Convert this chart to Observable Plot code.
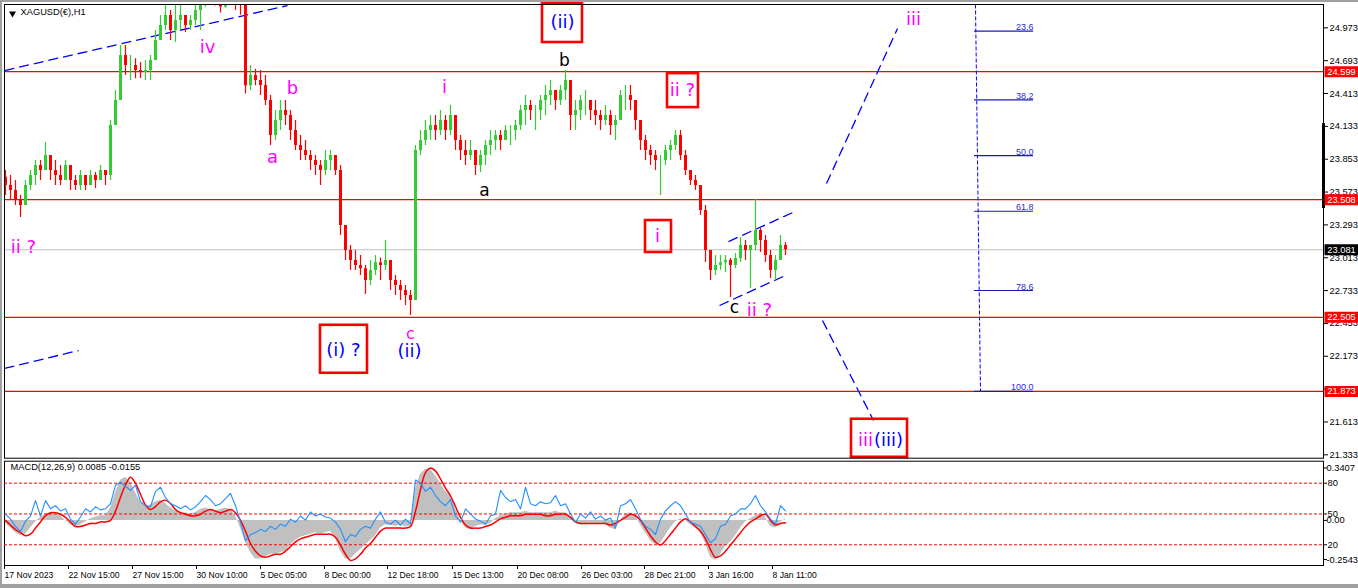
<!DOCTYPE html>
<html><head><meta charset="utf-8">
<script src="https://cdn.jsdelivr.net/npm/d3@7"></script>
<script src="https://cdn.jsdelivr.net/npm/@observablehq/plot@0.6"></script>
<style>
body{margin:0;background:#fff;}
#wrap{position:relative;width:1358px;height:588px;overflow:hidden;background:#fff;}
#wrap svg{position:absolute;left:0;overflow:visible;}
.edge{position:absolute;background:#a0a0a0;}
</style></head><body><div id="wrap"></div>
<script>
// ---------- DATA ----------
const symbolTitle = "XAGUSD(\u20AC),H1";
const macdTitle = "MACD(12,26,9) 0.0085 -0.0155";
const barStep = 5;            // each candle below = 5 H1 bars
const firstOpen = 23.70;
const highs = [23.757,23.714,23.671,23.544,23.671,23.757,23.842,23.842,23.995,23.885,
23.842,23.799,23.842,23.757,23.714,23.757,23.714,23.757,23.740,23.799,
23.757,24.183,24.439,24.822,24.822,24.737,24.71,24.677,24.694,24.737,
24.950,25.078,25.163,25.120,25.206,25.206,25.078,25.078,25.163,25.25,
25.30,25.35,25.33,25.28,25.30,25.34,25.30,25.27,25.12,24.652,
24.62,24.609,24.567,24.396,24.268,24.353,24.353,24.268,24.183,24.055,
24.012,23.927,23.885,23.842,23.927,23.927,23.885,23.799,23.288,23.117,
23.075,23.032,22.947,22.989,23.032,23.01,23.160,22.947,22.862,22.819,
22.776,22.734,23.970,24.098,24.183,24.226,24.226,24.268,24.226,24.311,
24.183,24.055,24.012,24.012,23.927,23.927,24.012,24.098,24.098,24.098,
24.140,24.140,24.183,24.311,24.396,24.353,24.311,24.396,24.481,24.524,
24.439,24.481,24.61,24.524,24.353,24.396,24.439,24.353,24.353,24.268,
24.311,24.268,24.226,24.439,24.481,24.481,24.353,24.183,24.055,23.970,
23.927,23.885,23.970,24.012,24.098,24.098,23.927,23.757,23.714,23.629,
23.458,23.075,23.032,23.032,23.032,23.006,23.049,23.185,23.160,23.117,
23.510,23.262,23.203,23.075,23.032,23.203,23.143];
const lows = [23.544,23.501,23.458,23.356,23.458,23.586,23.629,23.671,23.757,23.671,
23.629,23.629,23.671,23.586,23.586,23.586,23.586,23.629,23.603,23.671,
23.629,23.671,24.140,24.353,24.567,24.524,24.54,24.541,24.524,24.524,
24.694,24.865,24.950,24.865,24.848,24.950,24.933,24.950,24.993,24.950,
25.15,25.18,25.16,25.10,25.14,25.17,25.12,25.08,24.41,24.439,
24.48,24.396,24.311,23.970,24.012,24.098,24.140,24.012,23.927,23.842,
23.842,23.757,23.714,23.629,23.714,23.757,23.714,23.203,22.989,22.904,
22.904,22.862,22.70,22.776,22.862,22.819,22.904,22.734,22.691,22.648,
22.606,22.520,22.648,23.885,23.970,24.012,24.012,24.055,24.012,24.055,
23.927,23.842,23.799,23.842,23.714,23.74,23.799,23.885,23.927,23.927,
24.012,23.970,24.012,24.098,24.140,24.183,24.098,24.183,24.226,24.311,
24.268,24.311,24.353,24.098,24.098,24.183,24.226,24.183,24.140,24.098,
24.140,24.055,24.012,24.183,24.268,24.268,24.098,23.927,23.842,23.799,
23.757,23.544,23.799,23.842,23.927,23.842,23.714,23.629,23.586,23.373,
22.972,22.819,22.862,22.904,22.887,22.674,22.92,22.972,22.989,22.750,
23.075,23.058,22.972,22.836,22.819,23.032,23.032];
const closes = [23.629,23.586,23.501,23.458,23.629,23.714,23.799,23.757,23.885,23.757,
23.714,23.671,23.799,23.671,23.629,23.714,23.629,23.714,23.671,23.757,
23.714,24.140,24.353,24.737,24.652,24.652,24.609,24.592,24.609,24.694,
24.865,24.993,25.078,24.950,25.035,25.078,24.993,25.035,25.120,25.163,
25.25,25.28,25.22,25.15,25.24,25.27,25.20,25.18,24.48,24.567,
24.524,24.481,24.353,24.055,24.183,24.268,24.226,24.098,23.970,23.927,
23.885,23.842,23.799,23.757,23.842,23.885,23.757,23.288,23.075,22.989,
22.947,22.92,22.819,22.904,22.97,22.947,22.989,22.819,22.776,22.734,
22.691,22.648,23.927,24.012,24.098,24.140,24.098,24.183,24.098,24.226,
24.012,23.927,23.885,23.927,23.799,23.885,23.970,24.012,24.055,24.012,
24.098,24.098,24.140,24.268,24.311,24.268,24.268,24.353,24.396,24.439,
24.353,24.439,24.524,24.226,24.268,24.353,24.353,24.268,24.226,24.183,
24.226,24.140,24.183,24.396,24.396,24.353,24.183,24.012,23.927,23.885,
23.842,23.842,23.927,23.970,24.055,23.885,23.757,23.671,23.629,23.416,
23.075,22.904,22.947,22.97,22.989,22.947,23.006,23.117,23.075,23.117,
23.245,23.160,23.032,22.904,22.989,23.117,23.081];

const macdHist = [-0.02,-0.05,-0.08,-0.10,-0.09,-0.05,-0.01,0.02,0.04,0.05,
0.04,0.03,0.0,-0.03,-0.04,-0.03,-0.01,0.01,0.02,0.03,
0.03,0.08,0.18,0.26,0.28,0.25,0.18,0.12,0.09,0.10,
0.12,0.13,0.11,0.08,0.06,0.05,0.05,0.04,0.05,0.07,
0.08,0.07,0.06,0.07,0.08,0.07,0.03,-0.05,-0.14,-0.21,
-0.25,-0.25,-0.24,-0.22,-0.22,-0.21,-0.20,-0.16,-0.13,-0.11,
-0.10,-0.09,-0.08,-0.09,-0.08,-0.07,-0.12,-0.20,-0.25,-0.25,
-0.22,-0.19,-0.16,-0.13,-0.10,-0.05,-0.03,-0.03,-0.04,-0.03,
-0.04,-0.04,0.20,0.30,0.33,0.33,0.29,0.24,0.19,0.16,
0.08,0.0,-0.05,-0.06,-0.04,-0.03,-0.03,-0.02,0.01,0.03,
0.04,0.05,0.05,0.05,0.06,0.05,0.05,0.05,0.05,0.05,
0.06,0.05,0.05,0.02,-0.02,-0.03,-0.03,-0.02,-0.03,-0.02,
-0.03,-0.05,-0.06,0.0,0.04,0.05,0.03,-0.03,-0.08,-0.13,
-0.16,-0.15,-0.10,-0.05,-0.01,0.01,0.0,-0.03,-0.05,-0.08,
-0.15,-0.24,-0.26,-0.22,-0.17,-0.14,-0.10,-0.05,-0.01,0.01,
0.03,0.04,0.02,-0.04,-0.05,-0.01,0.0085];
const macdSignal = [0.0,-0.03,-0.06,-0.08,-0.10,-0.09,-0.05,-0.01,0.03,0.05,
0.05,0.04,0.02,-0.01,-0.04,-0.04,-0.03,-0.02,-0.02,-0.01,
-0.01,0.0,0.06,0.15,0.23,0.28,0.24,0.17,0.10,0.07,
0.09,0.12,0.13,0.11,0.07,0.05,0.04,0.03,0.03,0.04,
0.06,0.07,0.06,0.05,0.06,0.07,0.05,0.0,-0.07,-0.15,
-0.20,-0.23,-0.24,-0.23,-0.22,-0.22,-0.20,-0.17,-0.14,-0.12,
-0.11,-0.10,-0.09,-0.09,-0.09,-0.09,-0.11,-0.16,-0.22,-0.26,
-0.25,-0.22,-0.18,-0.15,-0.11,-0.07,-0.05,-0.05,-0.05,-0.05,
-0.05,-0.04,0.06,0.20,0.31,0.34,0.32,0.27,0.21,0.16,
0.09,0.02,-0.03,-0.05,-0.05,-0.05,-0.04,-0.03,-0.01,0.01,
0.02,0.03,0.03,0.03,0.04,0.04,0.04,0.04,0.03,0.03,
0.04,0.04,0.04,0.02,-0.01,-0.02,-0.02,-0.02,-0.02,-0.02,
-0.02,-0.03,-0.02,0.0,0.02,0.04,0.03,0.0,-0.05,-0.10,
-0.14,-0.16,-0.13,-0.09,-0.05,-0.01,0.01,-0.01,-0.04,-0.07,
-0.12,-0.19,-0.24,-0.23,-0.20,-0.16,-0.12,-0.08,-0.04,-0.01,
0.01,0.03,0.04,0.0,-0.03,-0.02,-0.0155];
const oscLine = [50,45,38,33,43,48,63,48,63,55,
58,53,55,45,40,47,55,52,57,54,
55,60,78,81,77,73,78,62,58,57,
72,76,66,60,58,55,58,54,57,62,
68,64,58,60,65,70,58,42,24,30,
32,35,33,38,35,40,38,45,42,48,
44,52,48,50,47,46,42,35,23,30,
28,35,38,36,45,52,42,40,44,39,
45,40,83,80,72,76,68,62,58,64,
48,42,55,50,45,43,40,48,50,73,
66,62,64,55,76,60,58,62,60,61,
68,58,60,50,42,50,46,52,45,48,
44,46,36,58,60,64,55,45,38,35,
30,45,53,58,62,58,50,42,40,38,
30,22,26,38,40,48,50,55,55,60,
68,58,52,45,40,58,53];

const priceTicks = [24.973,24.693,24.413,24.133,23.853,23.573,23.293,23.013,22.733,22.453,22.173,21.893,21.613,21.333];
const redLevels = [24.599,23.508,22.505,21.873];
const lastPrice = 23.081;
const timeTickBars = [0,64,128,192,256,320,383,448,513,577,640,704,768];
const timeTickLabels = ["17 Nov 2023","22 Nov 15:00","27 Nov 15:00","30 Nov 10:00","5 Dec 05:00","8 Dec 00:00","12 Dec 18:00","15 Dec 13:00","20 Dec 08:00","26 Dec 03:00","28 Dec 21:00","3 Jan 16:00","8 Jan 11:00"];
const macdTicks = [0.3407, 0, -0.2543];
const oscLevels = [80, 50, 20];

// Fibonacci retracement (from 25.895 to 21.873), drawn at bars 969..1028
const fibHigh = 25.895, fibLow = 21.873;
const fibRatios = [23.6, 38.2, 50.0, 61.8, 78.6, 100.0];
const fibBars = [969, 1028];
const fibAnchor = [{t: 970, p: 25.172}, {t: 975, p: 21.873}];

// trend / projection lines (bar, price)
const trendFrom = [[-1,24.609],[-1,22.069],[821,23.646],[817,22.478],[723,23.151],[714,22.606]];
const trendTo   = [[282,25.163],[73,22.222],[892,24.967],[868,21.626],[788,23.401],[780,22.862]];

// Elliott wave labels (bar, price, text, degree)
const waveText  = ["ii ?","iv","b","a","c","(i) ?","(ii)","i","a","(ii)","b","ii ?","i","c","ii ?","iii","iii","(iii)"];
const waveBar   = [18,202,287,267,405,338,404,439,479,557,559,677,652,729,754,908,860,883];
const wavePrice = [23.100,24.805,24.455,23.867,22.367,22.222,22.214,24.464,23.586,25.018,24.694,24.439,23.194,22.590,22.563,25.044,21.455,21.455];
const waveDegree= ["minor","minor","minor","minor","minute","inter","inter","minor","sub","inter","sub","minor","minor","sub","minor","minor","minor","inter"];
// boxed labels (bar1, bar2, price1, price2)
const boxBars   = [[315,362],[537,577],[662,693],[640,666],[846,902]];
const boxPrices = [[22.437,22.028],[25.18,24.848],[24.583,24.293],[23.330,23.058],[21.636,21.312]];

// ---------- BUILD ----------
const candles = closes.map((c, i) => ({t: i * barStep, o: i ? closes[i - 1] : firstOpen, h: highs[i], l: lows[i], c}));
const macd = macdHist.map((h, i) => ({t: i * barStep, hist: h, sig: macdSignal[i], osc: oscLine[i]}));
const fib = fibRatios.map(r => ({r, p: fibHigh - (r / 100) * (fibHigh - fibLow)}));
const trends = trendFrom.map((a, i) => ({x1: a[0], y1: a[1], x2: trendTo[i][0], y2: trendTo[i][1]}));
const waves = waveText.map((s, i) => ({s, t: waveBar[i], p: wavePrice[i], k: waveDegree[i]}));
const boxes = boxBars.map((b, i) => ({x1: b[0], x2: b[1], y1: boxPrices[i][0], y2: boxPrices[i][1]}));
const tickLabel = new Map(timeTickBars.map((b, i) => [b, timeTickLabels[i]]));

const bull = "#32cd32", bear = "#ff0000";
const col = d => d.c >= d.o ? bull : bear;
const axisFont = '"Liberation Sans",Arial,sans-serif';
const waveFont = '"DejaVu Sans",sans-serif';
const degreeStyle = {minor: ["#ff00ff", 18], minute: ["#ff00ff", 16], inter: ["#0000ff", 18], sub: ["#000000", 17]};
const boxSym = (w, h) => ({draw(ctx) { ctx.rect(-w / 2, -h / 2, w, h); }});
const xDom = [-1, 1318];
const baseStyle = {fontFamily: axisFont, fontSize: "9.3px", background: "transparent", color: "black", overflow: "visible"};

const waveMarks = Object.keys(degreeStyle).map(k => Plot.text(waves.filter(d => d.k === k), {
  x: "t", y: "p", text: "s", fill: degreeStyle[k][0], fontSize: degreeStyle[k][1], fontFamily: waveFont
}));

const main = Plot.plot({
  width: 1358, height: 461,
  marginLeft: 4, marginRight: 35, marginTop: 4, marginBottom: 3.3,
  style: baseStyle,
  x: {domain: xDom, axis: null},
  y: {domain: [21.304, 25.172], label: null},
  marks: [
    Plot.ruleY([lastPrice], {stroke: "#c0c0c0"}),
    Plot.ruleY(redLevels, {stroke: "#ff0000", strokeWidth: 1.2}),
    Plot.link(trends, {x1: "x1", y1: "y1", x2: "x2", y2: "y2", stroke: "#0000ff", strokeWidth: 1.3, strokeDasharray: "10,5", clip: true}),
    Plot.link([0], {x1: () => fibAnchor[0].t, y1: () => fibAnchor[0].p, x2: () => fibAnchor[1].t, y2: () => fibAnchor[1].p, stroke: "#0000ff", strokeDasharray: "4,2"}),
    Plot.ruleY(fib, {y: "p", x1: () => fibBars[0], x2: () => fibBars[1], stroke: "#1a1ab8", strokeWidth: 1.2}),
    Plot.text(fib, {y: "p", x: () => fibBars[1], text: d => d.r.toFixed(1), textAnchor: "end", lineAnchor: "bottom", dy: -1, fill: "#2b2bd0", fontSize: 9}),
    Plot.ruleX(candles, {x: "t", y1: "o", y2: "c", stroke: col, strokeWidth: 3, clip: true}),
    Plot.ruleX(candles, {x: "t", y1: "l", y2: "h", stroke: col, strokeWidth: 1.2, clip: true}),
    Plot.rect(boxes, {x1: "x1", x2: "x2", y1: "y1", y2: "y2", fill: "none", stroke: "#ff0000", strokeWidth: 2.6}),
    ...waveMarks,
    Plot.dot([symbolTitle], {frameAnchor: "top-left", dx: 8, dy: 9, symbol: "triangle", rotate: 180, r: 2.6, fill: "black", stroke: "none"}),
    Plot.text([symbolTitle], {frameAnchor: "top-left", dx: 16, dy: 4, textAnchor: "start", lineAnchor: "top", fontSize: 9.3}),
    Plot.ruleX([0], {x: () => 1318, y1: () => 24.156, y2: () => 23.433, stroke: "black", strokeWidth: 3}),
    Plot.frame({stroke: "black"}),
    Plot.axisY(priceTicks, {anchor: "right", label: null, tickSize: 4, tickPadding: 2, tickFormat: d => d.toFixed(3), fontSize: 9.3}),
    Plot.dot(redLevels, {y: d => d, frameAnchor: "right", dx: 18, symbol: boxSym(34, 11), fill: "#ff0000", stroke: "none"}),
    Plot.text(redLevels, {y: d => d, frameAnchor: "right", dx: 18, textAnchor: "middle", text: d => d.toFixed(3), fill: "white", fontSize: 9.3}),
    Plot.dot([lastPrice], {y: d => d, frameAnchor: "right", dx: 18, symbol: boxSym(34, 11), fill: "black", stroke: "none"}),
    Plot.text([lastPrice], {y: d => d, frameAnchor: "right", dx: 18, textAnchor: "middle", text: d => d.toFixed(3), fill: "white", fontSize: 9.3})
  ]
});
main.style.top = "0px";

const macdPlot = Plot.plot({
  width: 1358, height: 133,
  marginLeft: 4, marginRight: 35, marginTop: 5.7, marginBottom: 23,
  style: baseStyle,
  x: {domain: xDom, label: null},
  y: {domain: [-0.293, 0.3844], label: null},
  marks: [
    Plot.areaY(macd, {x: "t", y: "hist", fill: "#c0c0c0"}),
    Plot.lineY(macd, {x: "t", y: "sig", stroke: "#ff0000", strokeWidth: 1.5, curve: "catmull-rom"}),
    Plot.frame({stroke: "black"}),
    Plot.axisY(macdTicks, {anchor: "right", label: null, tickSize: 3, tickPadding: 0, tickFormat: d => d === 0 ? "0.00" : d.toFixed(4), fontSize: 9.3}),
    Plot.axisX(timeTickBars, {anchor: "bottom", label: null, tickSize: 4, tickPadding: 2, textAnchor: "start", dx: -1, tickFormat: d => tickLabel.get(d), fontSize: 8.6}),
    Plot.text([macdTitle], {frameAnchor: "top-left", dx: 6, dy: 2, textAnchor: "start", lineAnchor: "top", fontSize: 9.3})
  ]
});
macdPlot.style.top = "455px";

const oscPlot = Plot.plot({
  width: 1358, height: 133,
  marginLeft: 4, marginRight: 35, marginTop: 5.7, marginBottom: 23,
  style: baseStyle,
  x: {domain: xDom, axis: null},
  y: {domain: [-0.2, 101.4], label: null},
  marks: [
    Plot.ruleY(oscLevels, {stroke: "#ff0000", strokeDasharray: "3,2"}),
    Plot.lineY(macd, {x: "t", y: "osc", stroke: "#1e90ff", strokeWidth: 1.1}),
    Plot.axisY(oscLevels, {anchor: "right", label: null, tickSize: 3, tickPadding: 1, tickFormat: d => String(d), fontSize: 9.3})
  ]
});
oscPlot.style.top = "455px";

const wrap = document.getElementById("wrap");
wrap.appendChild(main);
wrap.appendChild(macdPlot);
wrap.appendChild(oscPlot);
// window chrome
[["0px","0px","1358px","2px"],["0px","0px","2px","588px"],["0px","584px","1358px","4px"]].forEach(([l,t,w,h]) => {
  const e = document.createElement("div"); e.className = "edge";
  Object.assign(e.style, {left: l, top: t, width: w, height: h});
  wrap.appendChild(e);
});
</script></body></html>
